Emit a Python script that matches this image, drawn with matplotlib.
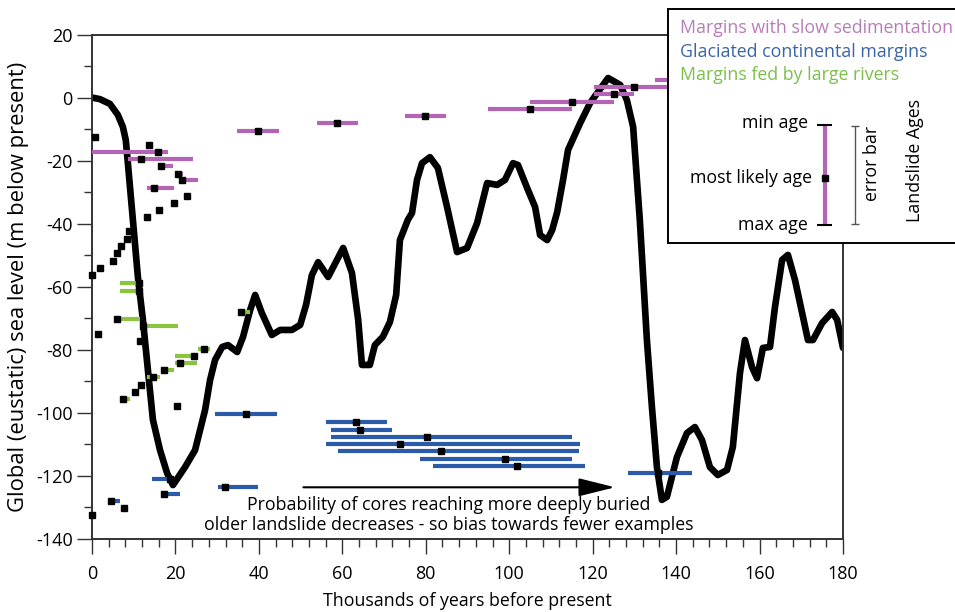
import matplotlib.pyplot as plt
from matplotlib.ticker import MultipleLocator

plt.rcParams['font.family'] = ['Open Sans', 'DejaVu Sans']
plt.rcParams['axes.unicode_minus'] = False

# global sea level curve (thousand years BP, m)
curve_age = [0.0, 1.9, 4.3, 6.2, 7.4, 8.1, 8.6, 9.8, 11.0, 12.2, 13.4, 14.6, 16.3, 18.0, 19.4,
             22.3, 24.7, 27.1, 28.3, 29.5, 31.2, 32.6, 34.8, 36.2, 37.9, 39.1, 40.7, 43.1,
             45.1, 47.9, 49.9, 51.3, 52.7, 54.2, 56.6, 60.2, 62.3, 63.8, 64.7, 66.6, 67.8,
             69.7, 71.4, 72.9, 73.8, 75.7, 76.7, 77.9, 79.1, 81.0, 82.9, 85.1, 87.5, 89.9,
             92.3, 94.7, 97.1, 99.0, 100.9, 102.1, 104.3, 106.2, 107.4, 109.1, 110.3, 111.5,
             112.9, 114.1, 117.0, 119.4, 121.3, 123.7, 126.6, 128.2, 129.7, 131.3, 133.0,
             134.2, 135.4, 136.6, 137.8, 140.2, 142.6, 144.5, 146.2, 148.1, 150.0, 152.2,
             153.6, 155.3, 156.5, 158.2, 159.4, 160.8, 162.5, 163.7, 165.4, 166.8, 168.5,
             170.2, 171.6, 172.8, 175.0, 177.4, 178.6, 180.0]
curve_level = [0.0, -0.5, -2.0, -5.5, -9.3, -13.5, -20.8, -38.8, -56.9, -70.5, -86.4, -102.2,
               -111.8, -119.1, -122.9, -117.2, -111.8, -99.1, -89.6, -83.2, -79.1, -78.5,
               -80.7, -75.9, -67.4, -62.6, -68.3, -75.3, -73.7, -73.7, -72.1, -65.8, -56.3,
               -52.2, -56.9, -47.7, -55.6, -70.5, -84.8, -84.8, -78.5, -75.9, -71.2, -62.6,
               -45.2, -38.8, -36.6, -26.1, -20.8, -18.9, -22.3, -34.7, -49.0, -47.7, -39.8,
               -27.1, -27.7, -26.1, -20.8, -21.4, -28.7, -34.7, -43.6, -45.2, -42.0, -36.3,
               -26.1, -16.6, -8.1, -1.7, 1.8, 6.2, 4.0, -0.8, -9.3, -38.8, -76.9, -98.1,
               -117.2, -127.6, -126.6, -114.0, -106.4, -104.5, -108.6, -117.2, -119.7, -118.1,
               -110.8, -87.4, -76.9, -85.5, -89.0, -79.4, -79.1, -66.4, -51.5, -49.9, -57.9,
               -68.3, -76.9, -76.9, -71.5, -68.0, -70.5, -79.4]

# landslides on margins with slow sedimentation: min / most likely / max age, level
slow_min = [0.0, 8.6, 16.5, 20.0, 21.6, 13.3, 34.8, 53.9, 75.0, 95.0, 105.0, 120.2, 120.2, 135.0]
slow_best = [15.7, 11.7, 16.5, 20.5, 21.6, 14.9, 39.8, 58.8, 79.9, 105.0, 115.0, 125.0, 130.0, 145.0]
slow_max = [18.2, 24.2, 19.4, 21.8, 25.4, 19.7, 44.8, 63.8, 84.8, 115.0, 125.0, 129.9, 140.0, 155.0]
slow_level = [-17.2, -19.5, -21.8, -24.2, -26.3, -28.6, -10.6, -8.2, -5.8, -3.7, -1.3, 1.0, 3.4, 5.6]

# glaciated continental margins
glac_min = [29.5, 14.3, 17.3, 30.1, 4.6, 56.1, 57.2, 57.2, 56.1, 59.0, 78.5, 81.7, 128.5]
glac_best = [36.9, 18.8, 17.3, 31.9, 4.6, 63.3, 64.2, 80.2, 73.8, 83.7, 99.0, 101.9, 135.6]
glac_max = [44.3, 18.8, 21.1, 39.7, 6.7, 70.8, 72.0, 115.1, 117.0, 116.8, 115.1, 118.2, 143.7]
glac_level = [-100.3, -121.1, -125.7, -123.5, -127.9, -103.0, -105.3, -107.7, -109.9, -112.2,
              -114.5, -116.9, -119.0]

# margins fed by large rivers
river_min = [6.7, 6.7, 6.1, 11.5, 11.5, 13.1, 17.3, 19.9, 19.9, 25.5, 7.4, 35.0, 4.4]
river_best = [11.2, 11.2, 6.1, 12.3, 11.5, 14.7, 17.3, 24.5, 21.1, 26.8, 7.4, 35.6, 5.0]
river_max = [11.5, 11.5, 11.5, 20.7, 12.5, 16.3, 19.7, 24.7, 25.1, 28.3, 9.1, 37.9, 5.0]
river_level = [-58.9, -61.4, -70.3, -72.6, -77.2, -88.7, -86.4, -81.9, -84.3, -79.6, -95.6,
               -68.0, -51.7]

# landslides with no age range shown
point_age = [0.6, 13.7, 22.8, 19.6, 16.1, 13.1, 8.9, 8.5, 6.9, 6.1, 1.9, 0.0, 1.4, 11.7, 10.3,
             20.3, 7.7, 0.0]
point_level = [-12.6, -14.9, -31.1, -33.4, -35.7, -37.8, -42.4, -44.9, -47.1, -49.4, -54.0,
               -56.3, -75.1, -91.2, -93.5, -97.9, -130.1, -132.4]

PURPLE = '#b464b4'
BLUE = '#2a5aa8'
GREEN = '#8cc43f'
AXIS = '#333333'
FS = 12.8

fig = plt.figure(figsize=(9.55, 6.12), dpi=100)
ax = fig.add_axes([92 / 955, 1 - 539 / 612, 751 / 955, 504.5 / 612])

ax.plot(curve_age, curve_level, color='black', lw=4.8, solid_joinstyle='round',
        solid_capstyle='round', zorder=2)

for lo, best, hi, lev, c in [(slow_min, slow_best, slow_max, slow_level, PURPLE),
                             (glac_min, glac_best, glac_max, glac_level, BLUE),
                             (river_min, river_best, river_max, river_level, GREEN)]:
    ax.hlines(lev, lo, hi, colors=c, lw=3, zorder=3)
    ax.plot(best, lev, 's', color='black', ms=4.6, zorder=4, clip_on=False)
ax.plot(point_age, point_level, 's', color='black', ms=4.6, zorder=4, clip_on=False)

ax.annotate('', xy=(126, -123.6), xytext=(50, -123.6),
            arrowprops=dict(arrowstyle='-|>,head_length=1.4,head_width=0.35',
                            color='black', lw=1.5, mutation_scale=16))
ax.text(85.4, -130.8, 'Probability of cores reaching more deeply buried',
        ha='center', va='baseline', fontsize=FS)
ax.text(85.4, -137.2, 'older landslide decreases - so bias towards fewer examples',
        ha='center', va='baseline', fontsize=FS)

ax.set_xlim(0, 180)
ax.set_ylim(-140, 20)
ax.xaxis.set_major_locator(MultipleLocator(20))
ax.xaxis.set_minor_locator(MultipleLocator(4))
ax.yaxis.set_major_locator(MultipleLocator(20))
ax.yaxis.set_minor_locator(MultipleLocator(10))
ax.tick_params(which='major', direction='out', length=10.5, width=1, color=AXIS,
               labelsize=13, pad=3.5)
ax.tick_params(axis='x', which='major', pad=8)
ax.tick_params(which='minor', direction='out', length=5.5, width=1, color=AXIS)
for s in ax.spines.values():
    s.set_color(AXIS)
    s.set_linewidth(1.4)
ax.set_xlabel('Thousands of years before present', fontsize=FS, labelpad=7)
ax.set_ylabel('Global (eustatic) sea level (m below present)', fontsize=15.8, labelpad=5)

# key box in the top right corner, laid out in pixel units
key = fig.add_axes([668 / 955, 1 - 243 / 612, 297 / 955, 234 / 612], zorder=5)
key.set_xlim(668, 965)
key.set_ylim(243, 9)
key.set_xticks([])
key.set_yticks([])
for s in key.spines.values():
    s.set_linewidth(1.4)
key.text(680, 28, 'Margins with slow sedimentation', color='#b77cb8', fontsize=FS, va='center')
key.text(680, 52, 'Glaciated continental margins', color='#3a64a8', fontsize=FS, va='center')
key.text(680, 75, 'Margins fed by large rivers', color='#7cbf4a', fontsize=FS, va='center')
key.text(808, 123, 'min age', fontsize=FS, ha='right', va='center')
key.text(812, 178, 'most likely age', fontsize=FS, ha='right', va='center')
key.text(808, 225, 'max age', fontsize=FS, ha='right', va='center')
key.vlines(825, 125, 225, colors=PURPLE, lw=3)
key.hlines([125, 225], 817, 832, colors='black', lw=1.5)
key.plot(825, 178, 's', color='black', ms=4)
key.vlines(855, 126, 224, colors='#555555', lw=1)
key.hlines([126, 224], 851, 859, colors='#555555', lw=1)
key.text(872, 163, 'error bar', fontsize=FS, rotation=90, ha='center', va='center')
key.text(915, 160, 'Landslide Ages', fontsize=FS, rotation=90, ha='center', va='center')

fig.savefig('out.png', dpi=100)
